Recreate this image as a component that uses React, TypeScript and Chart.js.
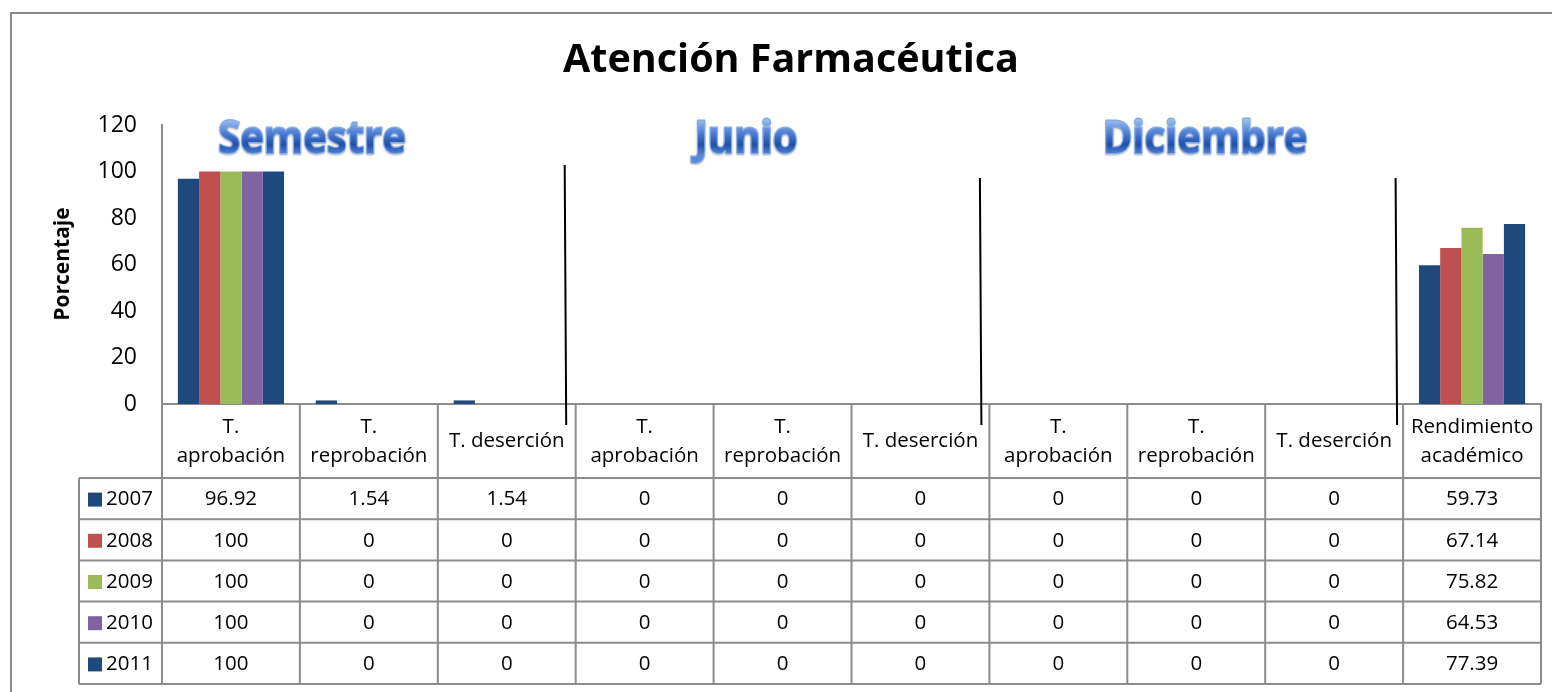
import { useEffect, useRef } from "react";
import { Chart, registerables } from "chart.js";

Chart.register(...registerables);

// ---- Data ----
const categoryLabels: string[][] = [
  ["T.", "aprobación"],
  ["T.", "reprobación"],
  ["T. deserción"],
  ["T.", "aprobación"],
  ["T.", "reprobación"],
  ["T. deserción"],
  ["T.", "aprobación"],
  ["T.", "reprobación"],
  ["T. deserción"],
  ["Rendimiento", "académico"],
];
const years = ["2007", "2008", "2009", "2010", "2011"];
const values2007 = [96.92, 1.54, 1.54, 0, 0, 0, 0, 0, 0, 59.73];
const values2008 = [100, 0, 0, 0, 0, 0, 0, 0, 0, 67.14];
const values2009 = [100, 0, 0, 0, 0, 0, 0, 0, 0, 75.82];
const values2010 = [100, 0, 0, 0, 0, 0, 0, 0, 0, 64.53];
const values2011 = [100, 0, 0, 0, 0, 0, 0, 0, 0, 77.39];
const seriesValues = [values2007, values2008, values2009, values2010, values2011];
const seriesColors = ["#1F497D", "#C0504D", "#9BBB59", "#8064A2", "#1F497D"];
const yMin = 0;
const yMax = 120;
const yStep = 20;
const chartTitle = "Atención Farmacéutica";
const yTitle = "Porcentaje";
const sectionLabels = ["Semestre", "Junio", "Diciembre"];

const FONT = '"Open Sans", "DejaVu Sans", sans-serif';
const GRID_GRAY = "#8c8c8c";

function drawFancy(ctx: CanvasRenderingContext2D, text: string, cx: number, baseY: number, size: number) {
  ctx.save();
  ctx.translate(cx, baseY);
  ctx.scale(1, 1.12);
  ctx.font = `bold ${size}px ${FONT}`;
  ctx.textAlign = "center";
  ctx.textBaseline = "alphabetic";
  const top = -size * 0.74;
  const g = ctx.createLinearGradient(0, top, 0, 2);
  g.addColorStop(0, "#9CBDF0");
  g.addColorStop(0.35, "#5282D4");
  g.addColorStop(0.7, "#2050A8");
  g.addColorStop(1, "#5A88D8");
  ctx.shadowColor = "rgba(0,0,0,0.22)";
  ctx.shadowBlur = 2;
  ctx.shadowOffsetY = 1;
  ctx.lineJoin = "round";
  ctx.lineWidth = 2.5;
  ctx.strokeStyle = "#86ABE4";
  ctx.strokeText(text, 0, 0);
  ctx.shadowColor = "transparent";
  ctx.fillStyle = g;
  ctx.fillText(text, 0, 0);
  ctx.restore();
}

const overlayPlugin = {
  id: "overlay",
  afterDraw(chart: any) {
    const ctx: CanvasRenderingContext2D = chart.ctx;
    const xs = chart.scales.x;
    const area = chart.chartArea;
    const n = categoryLabels.length;
    const colW = (area.right - area.left) / n;
    const tableTop = area.bottom;
    const headerH = 74;
    const rowH = 41.2;
    const legendLeft = 79;
    const tableBottom = tableTop + headerH + rowH * years.length;

    ctx.save();
    // outer frame
    ctx.strokeStyle = "#8a8a8a";
    ctx.lineWidth = 2;
    ctx.strokeRect(11, 13, 1600, 800);

    // title
    ctx.fillStyle = "#000";
    ctx.font = `bold 39.5px ${FONT}`;
    ctx.textAlign = "center";
    ctx.textBaseline = "alphabetic";
    ctx.fillText(chartTitle, 791, 72);

    // y title
    ctx.save();
    ctx.translate(63, 264);
    ctx.rotate(-Math.PI / 2);
    ctx.font = `bold 21px ${FONT}`;
    ctx.textBaseline = "middle";
    ctx.fillText(yTitle, 0, 0);
    ctx.restore();

    // table grid
    ctx.strokeStyle = GRID_GRAY;
    ctx.lineWidth = 2;
    ctx.beginPath();
    for (let i = 0; i <= n; i++) {
      const x = area.left + i * colW;
      ctx.moveTo(x, tableTop);
      ctx.lineTo(x, tableBottom);
    }
    ctx.moveTo(legendLeft, tableTop + headerH);
    ctx.lineTo(legendLeft, tableBottom);
    for (let r = 0; r <= years.length; r++) {
      const y = tableTop + headerH + r * rowH;
      ctx.moveTo(legendLeft, y);
      ctx.lineTo(area.right, y);
    }
    ctx.stroke();

    // header labels
    ctx.fillStyle = "#000";
    ctx.font = `20.5px ${FONT}`;
    ctx.textAlign = "center";
    ctx.textBaseline = "middle";
    for (let i = 0; i < n; i++) {
      const cx = xs.getPixelForTick(i);
      const lines = categoryLabels[i];
      if (lines.length === 1) {
        ctx.fillText(lines[0], cx, tableTop + 37);
      } else {
        ctx.fillText(lines[0], cx, tableTop + 23);
        ctx.fillText(lines[1], cx, tableTop + 52);
      }
    }

    // rows
    for (let r = 0; r < years.length; r++) {
      const cy = tableTop + headerH + r * rowH + rowH / 2 + 1;
      ctx.fillStyle = seriesColors[r];
      ctx.fillRect(88, cy - 7, 14, 14);
      ctx.fillStyle = "#000";
      ctx.textAlign = "left";
      ctx.fillText(years[r], 106, cy);
      ctx.textAlign = "center";
      for (let i = 0; i < n; i++) {
        ctx.fillText(String(seriesValues[r][i]), xs.getPixelForTick(i), cy);
      }
    }

    // separator lines
    ctx.strokeStyle = "#000";
    ctx.lineWidth = 2;
    const seps = [
      { i: 3, top: 165, off: -10 },
      { i: 6, top: 178, off: -8.5 },
      { i: 9, top: 178, off: -6.5 },
    ];
    ctx.beginPath();
    for (const s of seps) {
      const bx = area.left + s.i * colW + s.off;
      ctx.moveTo(bx - 1, s.top);
      ctx.lineTo(bx + 0.5, tableTop + 21);
    }
    ctx.stroke();

    // section labels
    drawFancy(ctx, sectionLabels[0], 312, 153, 40);
    drawFancy(ctx, sectionLabels[1], 746, 153, 40);
    drawFancy(ctx, sectionLabels[2], 1205, 153, 40);
    ctx.restore();
  },
};

export default function App() {
  const ref = useRef<HTMLCanvasElement | null>(null);
  useEffect(() => {
    document.body.style.margin = "0";
    const canvas = ref.current!;
    const chart = new Chart(canvas, {
      type: "bar",
      data: {
        labels: categoryLabels.map((l) => l.join(" ")),
        datasets: years.map((y, i) => ({
          label: y,
          data: seriesValues[i],
          backgroundColor: seriesColors[i],
          borderWidth: 0,
          barPercentage: 1,
          categoryPercentage: 0.77,
        })),
      },
      options: {
        responsive: false,
        animation: false,
        layout: { padding: { left: 0, right: 11, top: 125, bottom: 288 } },
        plugins: {
          legend: { display: false },
          tooltip: { enabled: false },
          title: { display: false },
        },
        scales: {
          x: {
            grid: { display: false, drawTicks: false },
            ticks: { display: false },
            border: { display: true, color: GRID_GRAY, width: 2 },
            afterFit: (s: any) => {
              s.height = 0;
            },
          },
          y: {
            min: yMin,
            max: yMax,
            grid: { display: false, drawTicks: false },
            border: { display: true, color: GRID_GRAY, width: 2 },
            ticks: {
              stepSize: yStep,
              padding: 25,
              color: "#000",
              font: { family: FONT, size: 23 },
            },
            afterFit: (s: any) => {
              s.width = 162;
            },
          },
        },
      },
      plugins: [overlayPlugin],
    });
    return () => chart.destroy();
  }, []);
  return (
    <div style={{ width: 1552, height: 692, background: "#fff" }}>
      <canvas ref={ref} width={1552} height={692} style={{ display: "block" }} />
    </div>
  );
}
